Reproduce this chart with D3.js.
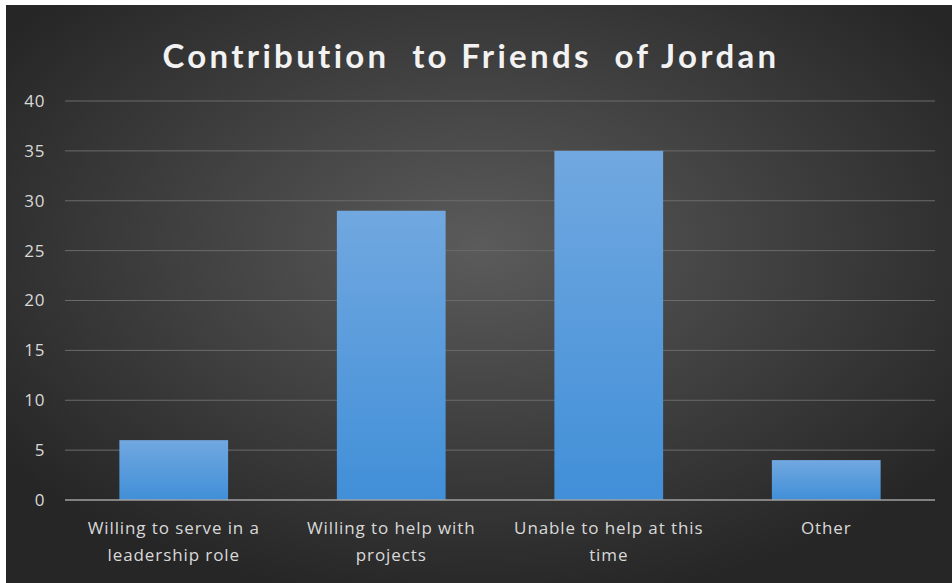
<!DOCTYPE html>
<html>
<head>
<meta charset="utf-8">
<script src="https://cdn.jsdelivr.net/npm/d3@7"></script>
<style>
  html, body { margin: 0; padding: 0; background: #fff; }
  svg { display: block; }
</style>
</head>
<body>
<script>
// chart data
var categories = ["Willing to serve in a|leadership role", "Willing to help with|projects", "Unable to help at this|time", "Other"];
var values = [6, 29, 35, 4];
var yTicks = [0, 5, 10, 15, 20, 25, 30, 35, 40];
var title = "Contribution  to Friends  of Jordan";

(function () {
var w = 952, h = 583;
var plotL = 65, plotR = 935, plotT = 101, plotB = 500;

var svg = d3.select("body").append("svg")
  .attr("width", w)
  .attr("height", h);

var defs = svg.append("defs");

var bg = defs.append("radialGradient")
  .attr("id", "bg")
  .attr("cx", "50%").attr("cy", "42%").attr("r", "62%");
bg.append("stop").attr("offset", "0%").attr("stop-color", "#5b5b5b");
bg.append("stop").attr("offset", "100%").attr("stop-color", "#262626");

var barGrad = defs.append("linearGradient")
  .attr("id", "barGrad")
  .attr("x1", 0).attr("y1", 0).attr("x2", 0).attr("y2", 1);
barGrad.append("stop").attr("offset", "0%").attr("stop-color", "#71a8e0");
barGrad.append("stop").attr("offset", "100%").attr("stop-color", "#418fd8");

// background panel (small white edge on top/left like the picture)
svg.append("rect")
  .attr("x", 6).attr("y", 5)
  .attr("width", w - 6).attr("height", h - 5)
  .attr("fill", "url(#bg)");

var x = d3.scaleBand()
  .domain(categories)
  .range([plotL, plotR])
  .paddingInner(0.5)
  .paddingOuter(0.25);

var y = d3.scaleLinear()
  .domain([0, 40])
  .range([plotB, plotT]);

// gridlines
svg.append("g")
  .selectAll("line")
  .data(yTicks.filter(function (d) { return d > 0; }))
  .enter()
  .append("line")
  .attr("x1", plotL).attr("x2", plotR)
  .attr("y1", function (d) { return y(d); })
  .attr("y2", function (d) { return y(d); })
  .attr("stroke", "#6b6b6b")
  .attr("stroke-width", 1);

// y axis labels
var yAxis = d3.axisLeft(y).tickValues(yTicks).tickSize(0).tickPadding(0);
var yg = svg.append("g")
  .attr("transform", "translate(45,0)")
  .call(yAxis);
yg.select(".domain").remove();
yg.selectAll("text")
  .attr("fill", "#d9d9d9")
  .attr("font-family", "'Open Sans', sans-serif")
  .attr("font-size", 17)
  .attr("letter-spacing", 0.6);

// bars
svg.append("g")
  .selectAll("rect")
  .data(values)
  .enter()
  .append("rect")
  .attr("x", function (d, i) { return x(categories[i]); })
  .attr("y", function (d) { return y(d); })
  .attr("width", x.bandwidth())
  .attr("height", function (d) { return y(0) - y(d); })
  .attr("fill", "url(#barGrad)");

// baseline
svg.append("line")
  .attr("x1", plotL).attr("x2", plotR)
  .attr("y1", y(0)).attr("y2", y(0))
  .attr("stroke", "#a0a0a0")
  .attr("stroke-width", 1.5);

// category labels
var labels = svg.append("g")
  .selectAll("text")
  .data(categories)
  .enter()
  .append("text")
  .attr("text-anchor", "middle")
  .attr("fill", "#d9d9d9")
  .attr("font-family", "'Open Sans', sans-serif")
  .attr("font-size", 17)
  .attr("letter-spacing", 0.9);

labels.each(function (d) {
  var t = d3.select(this);
  var cx = x(d) + x.bandwidth() / 2;
  d.split("|").forEach(function (line, k) {
    t.append("tspan")
      .attr("x", cx)
      .attr("y", 534 + k * 27)
      .text(line);
  });
});

// title
svg.append("text")
  .attr("x", 471)
  .attr("y", 68)
  .attr("text-anchor", "middle")
  .attr("fill", "#f2f2f2")
  .attr("font-family", "Lato, sans-serif")
  .attr("font-weight", "bold")
  .attr("font-size", 33)
  .attr("letter-spacing", 3.3)
  .style("white-space", "pre")
  .text(title);
})();
</script>
</body>
</html>
